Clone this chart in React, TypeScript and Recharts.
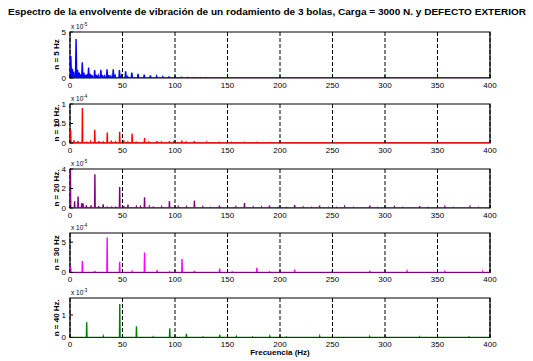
import React from 'react';
import { LineChart, Line, XAxis, YAxis, CartesianGrid, ReferenceArea } from 'recharts';

const TITLE = 'Espectro de la envolvente de vibración de un rodamiento de 3 bolas, Carga = 3000 N. y DEFECTO EXTERIOR';
const X_LABEL = 'Frecuencia (Hz)';
const FREQ_TICKS = [0, 50, 100, 150, 200, 250, 300, 350, 400];

// n = 5 Hz (x 10^-5)
const n5Freq = [0.8, 2.2, 3.5, 5.8, 7.2, 8.8, 10.2, 11.7, 13.2, 15, 16.3, 17.7, 19.3, 21, 23.5, 25.2, 27, 29.4, 31, 33, 35.3, 37, 39, 41.2, 43, 47.1, 49, 53, 55, 58.9, 64.8, 70.7, 76.6, 82.5, 88.4, 94.3, 100.2, 106, 112, 118, 124, 130];
const n5Amp = [2.4, 1.0, 0.7, 4.25, 0.9, 0.6, 0.4, 1.7, 0.6, 0.35, 0.4, 1.15, 0.45, 0.3, 0.87, 0.35, 0.25, 0.9, 0.3, 0.2, 0.95, 0.3, 0.2, 0.95, 0.25, 0.85, 0.25, 0.72, 0.15, 0.6, 0.45, 0.36, 0.27, 0.2, 0.15, 0.12, 0.1, 0.08, 0.06, 0.05, 0.04, 0.03];

// n = 10 Hz (x 10^-4)
const n10Freq = [0.6, 3.8, 7.5, 11.8, 15.8, 19.7, 23.6, 27.5, 31.5, 35.5, 39.4, 43.3, 47.3, 51.2, 55.2, 59.2, 63.1, 71, 75, 83, 87, 94.7, 98.7, 106.5, 110.5, 118.4, 130.3, 142, 154, 166, 178, 190];
const n10Amp = [0.35, 0.07, 0.05, 0.9, 0.035, 0.03, 0.34, 0.05, 0.02, 0.27, 0.06, 0.02, 0.29, 0.07, 0.02, 0.24, 0.035, 0.13, 0.02, 0.05, 0.02, 0.05, 0.02, 0.06, 0.02, 0.05, 0.02, 0.015, 0.015, 0.015, 0.012, 0.01];

// n = 20 Hz (x 10^-5)
const n20Freq = [0.4, 4.4, 7.7, 11.1, 12.4, 15.6, 20, 23.7, 27.3, 31.6, 35.6, 39.6, 43.5, 47.3, 51.3, 55.2, 63.2, 67.2, 71, 75.5, 79.4, 87.3, 94.7, 103, 111, 118.5, 126.5, 134, 142.3, 150, 158, 166.2, 174.5, 182.4, 190, 198, 206, 214, 222, 230, 237.7, 246, 254, 261.5, 270, 285.5, 293, 309, 317, 333, 341, 357, 365, 381, 389];
const n20Amp = [4.0, 0.7, 1.17, 0.48, 0.48, 0.28, 0.28, 3.45, 0.2, 0.38, 0.14, 0.14, 0.14, 2.14, 0.2, 0.34, 0.12, 0.12, 1.1, 0.12, 0.14, 0.1, 0.72, 0.12, 0.1, 0.76, 0.1, 0.05, 0.24, 0.05, 0.1, 0.52, 0.08, 0.08, 0.24, 0.05, 0.05, 0.3, 0.08, 0.05, 0.24, 0.05, 0.05, 0.12, 0.05, 0.24, 0.05, 0.1, 0.05, 0.2, 0.05, 0.12, 0.05, 0.12, 0.05];

// n = 30 Hz (x 10^-4)
const n30Freq = [0.6, 11.8, 23.7, 35.4, 47.3, 59.2, 71, 83, 95, 106.7, 118.5, 142.5, 154.5, 178, 190, 214, 249.5, 285.5, 321, 357, 393];
const n30Amp = [0.95, 1.87, 0.22, 5.77, 1.76, 0.16, 3.3, 0.38, 0.1, 2.2, 0.27, 0.66, 0.08, 0.77, 0.08, 0.5, 0.1, 0.27, 0.2, 0.15, 0.15];

// n = 40 Hz (x 10^-3)
const n40Freq = [15.9, 31.7, 47.4, 63.3, 79.2, 95, 110.9, 126.7, 142.6, 158.5, 174, 190.3, 206, 237.8, 285.4, 333, 380];
const n40Amp = [0.68, 0.05, 1.48, 0.5, 0.03, 0.41, 0.16, 0.02, 0.12, 0.04, 0.02, 0.05, 0.02, 0.05, 0.04, 0.03, 0.02];

function buildSpectrum(freqs: number[], amps: number[], hw: number) {
  const pts: { f: number; v: number }[] = [{ f: 0, v: 0 }];
  freqs.forEach((f, i) => {
    pts.push({ f: Math.max(0, f - hw), v: 0 });
    pts.push({ f, v: amps[i] });
    pts.push({ f: f + hw, v: 0 });
  });
  pts.push({ f: 400, v: 0 });
  pts.sort((a, b) => a.f - b.f);
  return pts;
}

const PANELS = [
  { label: 'n = 5 Hz', exp: '-5', color: '#0000ff', top: 31.5, h: 46, domain: [0, 5], ticks: [0, 5], data: buildSpectrum(n5Freq, n5Amp, 0.6) },
  { label: 'n = 10 Hz.', exp: '-4', color: '#ff0000', top: 103.5, h: 39, domain: [0, 1], ticks: [0, 0.5, 1], data: buildSpectrum(n10Freq, n10Amp, 0.3) },
  { label: 'n = 20 Hz.', exp: '-5', color: '#800080', top: 168.5, h: 39, domain: [0, 4], ticks: [0, 2, 4], data: buildSpectrum(n20Freq, n20Amp, 0.3) },
  { label: 'n = 30 Hz', exp: '-4', color: '#ff00ff', top: 233, h: 39.5, domain: [0, 6.5], ticks: [0, 5], data: buildSpectrum(n30Freq, n30Amp, 0.3) },
  { label: 'n = 40 Hz.', exp: '-3', color: '#008000', top: 298, h: 39.5, domain: [0, 1.75], ticks: [0, 1], data: buildSpectrum(n40Freq, n40Amp, 0.3) },
];

const FONT = '"Liberation Sans", Arial, Helvetica, sans-serif';
const MT = 3;
const XH = 14;

export default function App() {
  return (
    <div style={{ position: 'absolute', left: 0, top: 0, width: 533, height: 361, background: '#fff', fontFamily: FONT }}>
      {PANELS.map((p, idx) => (
        <div key={idx} style={{ position: 'absolute', left: 0, top: p.top - MT }}>
          <LineChart width={533} height={MT + p.h + XH} data={p.data} margin={{ top: MT, right: 0, bottom: 0, left: 0 }}>
            <CartesianGrid yAxisId="l" horizontal={false} stroke="#000" strokeDasharray="4 2" strokeWidth={1} />
            <XAxis dataKey="f" type="number" domain={[0, 400]} ticks={FREQ_TICKS} interval={0} allowDataOverflow height={XH}
              axisLine={false} tickSize={-3} tickMargin={7} tickLine={{ stroke: '#000' }}
              tick={{ fontSize: 8, fill: '#000', fontFamily: FONT }} />
            <YAxis yAxisId="l" type="number" domain={p.domain} ticks={p.ticks} interval={0} allowDataOverflow width={70}
              axisLine={false} tickSize={-3} tickMargin={7} tickLine={{ stroke: '#000' }}
              tick={{ fontSize: 8, fill: '#000', fontFamily: FONT }} />
            <YAxis yAxisId="r" orientation="right" type="number" domain={p.domain} ticks={p.ticks} interval={0} allowDataOverflow width={43}
              axisLine={false} tickSize={-3} tick={false} tickLine={{ stroke: '#000' }} />
            <ReferenceArea yAxisId="l" x1={0} x2={400} y1={p.domain[0]} y2={p.domain[1]} fill="none" fillOpacity={0} stroke="#000" strokeWidth={1.2} ifOverflow="visible" />
            <Line yAxisId="l" type="linear" dataKey="v" stroke={p.color} strokeWidth={1.4} dot={false} activeDot={false} isAnimationActive={false} />
          </LineChart>
        </div>
      ))}
      <svg width={533} height={361} style={{ position: 'absolute', left: 0, top: 0, pointerEvents: 'none' }} fontFamily={FONT}>
        <text x={267} y={15} textAnchor="middle" fontSize={8.8} fontWeight="bold" fill="#000" textLength={518} lengthAdjust="spacingAndGlyphs">{TITLE}</text>
        {PANELS.map((p, idx) => (
          <g key={idx}>
            <text transform={`translate(59, ${p.top + p.h / 2}) rotate(-90)`} textAnchor="middle" fontSize={8} fontWeight="bold" fill="#000">{p.label}</text>
            <text x={71} y={p.top - 3} fontSize={6.5} fill="#000">x 10<tspan dy={-3} fontSize={4.5}>{p.exp}</tspan></text>
          </g>
        ))}
        <text x={280} y={355} textAnchor="middle" fontSize={8} fontWeight="bold" fill="#000">{X_LABEL}</text>
      </svg>
    </div>
  );
}
